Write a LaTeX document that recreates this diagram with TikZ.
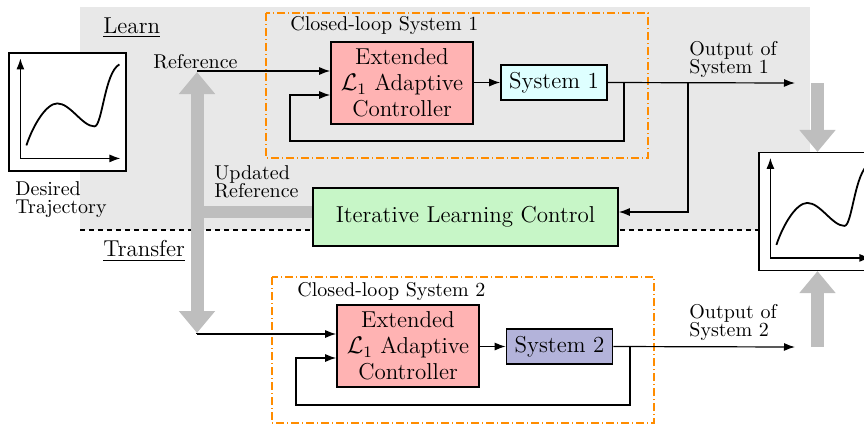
\documentclass[tikz,border=0pt]{standalone}
\usetikzlibrary{arrows.meta}
\definecolor{bgc}{HTML}{E8E8E8}
\definecolor{grayc}{HTML}{BEBEBE}
\definecolor{pinkc}{HTML}{FFB3B3}
\definecolor{cyanc}{HTML}{DEFFFF}
\definecolor{lavc}{HTML}{B3B3DA}
\definecolor{greenc}{HTML}{C7F6C7}
\definecolor{orangec}{HTML}{FF8C00}
\tikzset{ghead/.tip={Triangle[length=11pt,width=17.5pt]}}
\begin{document}
\begin{tikzpicture}[x=0.5pt,y=-0.5pt,
  big/.style={font=\fontsize{11.5}{13}\selectfont},
  small/.style={font=\fontsize{10}{9}\selectfont},
  blk/.style={draw, line width=0.8pt, inner sep=0pt, align=center},
  ctrl/.style={blk, big, fill=pinkc, minimum width=71pt, minimum height=41pt},
  sysbox/.style={blk, big, minimum width=53pt, minimum height=17.5pt},
  arr/.style={-{Latex[length=5.5pt,width=4pt]}, line width=0.6pt},
  garr/.style={line width=6.5pt, draw=grayc},
  loopbox/.style={draw=orangec, line width=0.9pt, dash pattern=on 4pt off 1.5pt on 0.5pt off 1.5pt},
  plotbox/.style={draw, line width=0.6pt, fill=white, minimum width=58.5pt, minimum height=59pt, inner sep=0pt},
  lbl/.style={small, align=left, anchor=west, inner sep=0pt},
]
\useasboundingbox (0,0) rectangle (864,425);
% background
\fill[bgc] (80,7) rectangle (810,230);
\draw[line width=0.6pt, dash pattern=on 2.5pt off 2pt] (80,230) -- (759,230);
% closed-loop frames
\draw[loopbox] (266,13) rectangle (648,158);
\draw[loopbox] (272,277) rectangle (654,423);
% nodes
\node[ctrl] (c1) at (402,83) {Extended\\$\mathcal{L}_1$ Adaptive\\Controller};
\node[sysbox, fill=cyanc] (s1) at (554,82.5) {System 1};
\node[ctrl] (c2) at (408,346) {Extended\\$\mathcal{L}_1$ Adaptive\\Controller};
\node[sysbox, fill=lavc] (s2) at (559.5,346.5) {System 2};
\node[blk, big, fill=greenc, minimum width=152.5pt, minimum height=29pt] (ilc) at (465.5,217) {Iterative Learning Control};
\node[plotbox] (lp) at (67.5,112) {};
\node[plotbox] (rp) at (817.5,211.5) {};
% gray arrows
\coordinate (gtop) at (197,72);
\coordinate (gbot) at (197,333);
\coordinate (gbr) at (197,211.5);
\draw[garr, line width=6pt] (gbr) -- (ilc.west |- gbr);
\draw[garr, ghead-ghead] (gtop) -- (gbot);
\coordinate (ga1) at (817.5,83);
\coordinate (ga2) at (817.5,347);
\draw[garr, -ghead] (ga1) -- (rp.north);
\draw[garr, -ghead] (ga2) -- (rp.south);
% texts
\node[lbl, font=\fontsize{11.5}{13}\selectfont] (learn) at (103,28) {\underline{Learn}};
\node[lbl, font=\fontsize{11.5}{13}\selectfont] (transfer) at (103,251) {\underline{Transfer}};
\node[lbl] (reflbl) at (153,62) {Reference};
\node[lbl] (updlbl) at (214,182) {Updated\\Reference};
\node[lbl] (deslbl) at (15,200) {Desired\\Trajectory};
\node[lbl] (cl1) at (290,25) {Closed-loop System 1};
\node[lbl] (cl2) at (297,291) {Closed-loop System 2};
\node[lbl] (o1lbl) at (689,59) {Output of\\System 1};
\node[lbl] (o2lbl) at (689,322) {Output of\\System 2};
% loop 1 connectors
\coordinate (ref1) at (197,71);
\coordinate (out1) at (795,83);
\coordinate (fb1) at (624,83);
\coordinate (br1) at (688,83);
\draw[arr] (ref1) -- (c1.west |- ref1);
\draw[arr] (c1.east |- s1.west) -- (s1.west);
\draw[arr] (s1.east) -- (out1);
\draw[arr] (fb1) -- (624,141) -- (290,141) -- (290,95) -- (c1.west |- 0,95);
\draw[arr] (br1) -- (688,212) -- (ilc.east |- 0,212);
% loop 2 connectors
\coordinate (ref2) at (197,334);
\coordinate (out2) at (795,347);
\coordinate (fb2) at (630,347);
\draw[line width=0.6pt] (gbot) -- (ref2);
\draw[arr] (ref2) -- (c2.west |- ref2);
\draw[arr] (c2.east |- s2.west) -- (s2.west);
\draw[arr] (s2.east) -- (out2);
\draw[arr] (fb2) -- (630,405) -- (296,405) -- (296,358) -- (c2.west |- 0,358);
% plots
\foreach \p in {lp,rp}{
  \begin{scope}[shift={(\p.north west)}]
    \draw[arr] (12,106) -- (12,6);
    \draw[arr] (12,106) -- (112,106);
    \draw[line width=0.9pt] (18,93) .. controls (25,72) and (38,51) .. (49,51)
      .. controls (62,51) and (74,74) .. (86,74)
      .. controls (94,74) and (96,20) .. (111,12);
  \end{scope}
}
\end{tikzpicture}
\end{document}
